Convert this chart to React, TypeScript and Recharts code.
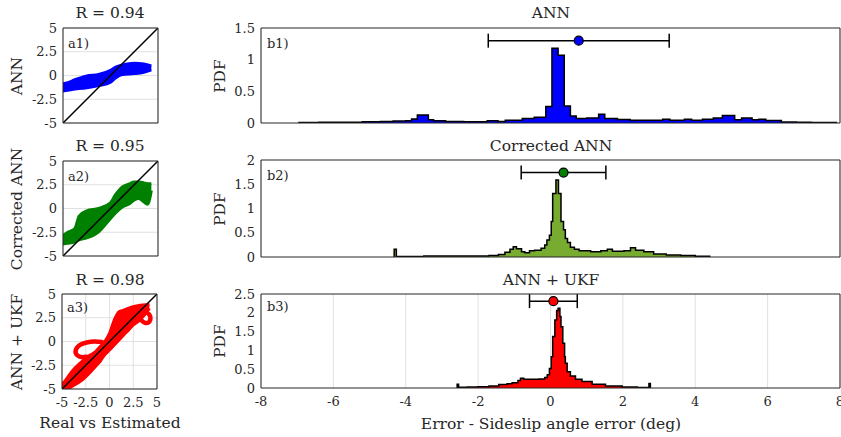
import React from 'react';
import { ComposedChart, Area, Line, Scatter, XAxis, YAxis, CartesianGrid, ErrorBar } from 'recharts';

const FONT = '"DejaVu Serif", "Liberation Serif", serif';
const INK = '#262626';
const GRID = '#e1e1e1';

// ---------- ticks / labels ----------
const SC_TICKS = [-5, -2.5, 0, 2.5, 5];
const HIST_X_TICKS = [-8, -6, -4, -2, 0, 2, 4, 6, 8];
const B1_Y_TICKS = [0, 0.5, 1, 1.5];
const B2_Y_TICKS = [0, 0.5, 1, 1.5, 2];
const B3_Y_TICKS = [0, 0.5, 1, 1.5, 2, 2.5];
const R_VALUES = ['0.94', '0.95', '0.98'];
const MODEL_NAMES = ['ANN', 'Corrected ANN', 'ANN + UKF'];
const SC_LABELS = ['a1)', 'a2)', 'a3)'];
const HIST_LABELS = ['b1)', 'b2)', 'b3)'];

// ---------- scatter (real vs estimated) ----------
const DIAG_X = [-5, 5];
const DIAG_Y = [-5, 5];

const A1_X = [-5.2, -4.5, -3.75, -3.0, -2.5, -1.25, 0, 0.6, 1.25, 2.5, 3.5, 4.3];
const A1_LO = [-1.65, -1.55, -1.42, -1.35, -1.3, -1.07, -0.7, -0.2, 0.1, 0.2, 0.35, 0.6];
const A1_HI = [-0.9, -0.75, -0.45, -0.2, -0.05, 0.1, 0.55, 0.9, 1.1, 1.3, 1.2, 1.0];

const A2_X = [-5.2, -4.5, -3.75, -3.3, -2.5, -1.25, 0, 0.5, 1.25, 2.0, 2.5, 3.0, 3.5, 3.9, 4.3];
const A2_LO = [-3.75, -3.65, -3.5, -3.3, -3.1, -2.45, -1.05, -0.5, 0.17, 0.5, 0.9, 1.05, 0.7, 0.45, 1.9];
const A2_HI = [-3.0, -2.5, -2.1, -0.8, -0.25, 0.0, 0.6, 1.4, 2.27, 2.6, 2.8, 2.8, 2.7, 2.6, 2.6];

const A3_X = [-5.2, -4.6, -4.0, -3.0, -2.0, -1.5, -1.0, -0.5, 0, 0.5, 1.0, 1.5, 2.0, 2.5, 3.0, 3.5, 4.2];
const A3_LO = [-5.2, -5.1, -4.75, -4.15, -3.2, -2.65, -2.1, -1.4, -0.9, -0.37, 0.16, 0.7, 1.2, 1.74, 2.1, 2.6, 3.5];
const A3_HI = [-4.7, -4.05, -3.2, -2.2, -1.4, -1.1, -0.55, 0.0, 0.86, 2.26, 3.14, 3.3, 3.5, 3.67, 3.77, 3.84, 3.9];

const A3_LOOP1_X = [-0.8, -1.6, -2.4, -3.1, -3.55, -3.4, -2.9, -2.4];
const A3_LOOP1_Y = [-0.05, 0.0, -0.1, -0.35, -0.9, -1.45, -1.65, -1.6];
const A3_LOOP2_X = [3.2, 3.5, 4.0, 4.3, 4.2, 3.8, 3.4, 3.2];
const A3_LOOP2_Y = [2.6, 3.0, 3.0, 2.6, 2.1, 1.95, 2.2, 2.6];

// ---------- histograms (bin left edge, PDF) ----------
const B1_X = [-6.95, -6.4, -5.8, -5.2, -4.7, -4.35, -4.0, -3.84, -3.68, -3.375, -3.23, -2.9, -2.4, -1.75, -1.45, -1.25, -0.78, -0.45, -0.13, 0.04, 0.21, 0.38, 0.55, 0.71, 1.0, 1.33, 1.5, 1.85, 2.2, 3.1, 3.3, 3.7, 3.9, 4.2, 4.5, 4.75, 5.09, 5.28, 5.57, 5.76, 5.95, 6.38, 6.8, 7.2, 7.9];
const B1_Y = [0.006, 0.01, 0.013, 0.018, 0.022, 0.03, 0.037, 0.063, 0.126, 0.05, 0.035, 0.025, 0.02, 0.035, 0.025, 0.045, 0.07, 0.09, 0.26, 1.18, 1.07, 0.27, 0.11, 0.07, 0.08, 0.14, 0.07, 0.055, 0.045, 0.06, 0.045, 0.06, 0.045, 0.06, 0.08, 0.12, 0.05, 0.08, 0.05, 0.06, 0.04, 0.015, 0.012, 0.008, 0];

const B2_X = [-4.32, -4.26, -3.5, -2.0, -1.7, -1.44, -1.26, -1.12, -1.03, -0.94, -0.8, -0.71, -0.58, -0.44, -0.26, -0.16, -0.1, -0.03, 0.02, 0.06, 0.15, 0.22, 0.29, 0.36, 0.41, 0.47, 0.55, 0.66, 0.79, 1.11, 1.39, 1.57, 1.71, 2.03, 2.21, 2.35, 2.58, 2.85, 3.2, 3.6, 4.0, 4.4];
const B2_Y = [0.16, 0.01, 0.02, 0.02, 0.03, 0.05, 0.1, 0.16, 0.21, 0.17, 0.11, 0.09, 0.13, 0.14, 0.18, 0.25, 0.35, 0.45, 0.73, 1.31, 1.59, 1.31, 0.73, 0.56, 0.38, 0.3, 0.2, 0.16, 0.13, 0.11, 0.13, 0.16, 0.12, 0.13, 0.19, 0.14, 0.11, 0.06, 0.04, 0.03, 0.015, 0];

const B3_X = [-2.58, -2.54, -2.3, -2.0, -1.7, -1.43, -1.2, -1.06, -0.9, -0.83, -0.74, -0.55, -0.32, -0.16, -0.09, -0.03, 0.02, 0.06, 0.12, 0.17, 0.21, 0.26, 0.29, 0.34, 0.39, 0.41, 0.46, 0.55, 0.69, 0.87, 1.15, 1.52, 1.98, 2.4, 2.72, 2.76];
const B3_Y = [0.1, 0.02, 0.025, 0.035, 0.05, 0.09, 0.11, 0.14, 0.2, 0.26, 0.23, 0.23, 0.24, 0.28, 0.35, 0.52, 0.83, 1.37, 1.81, 2.06, 2.12, 1.9, 1.63, 1.19, 0.83, 0.66, 0.43, 0.32, 0.23, 0.17, 0.1, 0.05, 0.027, 0.015, 0.12, 0];

// ---------- mean +- std of the error ----------
const ERR_MEAN = [0.78, 0.36, 0.08];
const ERR_STD = [2.5, 1.17, 0.66];
const ERR_LEVEL = [1.3, 1.74, 2.31];

const SC_COLORS = ['#0000ff', '#008000', '#ff0000'];
const HIST_FILL = ['#0000ff', '#77ac30', '#ff0000'];
const MARK_FILL = ['#0000ff', '#008000', '#ff0000'];

const band = (xs: number[], lo: number[], hi: number[]) => xs.map((x, i) => ({ x, r: [lo[i], hi[i]] }));
const pts = (xs: number[], ys: number[]) => xs.map((x, i) => ({ x, y: ys[i] }));
const hist = (xs: number[], ys: number[]) => [{ x: xs[0], y: 0 }, ...pts(xs, ys)];

const TICK_FS = 13;
const tickStyle = { fontFamily: FONT, fontSize: TICK_FS, fill: INK };

type PanelProps = {
  left: number; top: number; w: number; h: number;
  xDomain: [number, number]; yDomain: [number, number];
  xTicks: number[]; yTicks: number[]; showX: boolean; hGrid: boolean; tick: number;
  children: React.ReactNode;
};

function Panel(p: PanelProps) {
  const YW = 50, PAD = 12;
  const XH = p.showX ? 28 : 0;
  const cw = YW + p.w + PAD;
  const ch = PAD + p.h + (p.showX ? XH : PAD);
  return (
    <div style={{ position: 'absolute', left: p.left - YW, top: p.top - PAD }}>
      <ComposedChart width={cw} height={ch} margin={{ top: PAD, right: PAD, bottom: p.showX ? 0 : PAD, left: 0 }}>
        <CartesianGrid stroke={GRID} strokeWidth={1} horizontal={p.hGrid} vertical={true} />
        <XAxis xAxisId={0} type="number" dataKey="x" domain={p.xDomain} ticks={p.xTicks} interval={0} allowDataOverflow
          axisLine={false} tickLine={false} tickSize={4} tickMargin={5} tick={p.showX ? tickStyle : false} height={XH} />
        <YAxis yAxisId={0} type="number" domain={p.yDomain} ticks={p.yTicks} interval={0} allowDataOverflow
          axisLine={false} tickLine={false} tickSize={4} tickMargin={2} tick={tickStyle} width={YW} />
        {p.children}
        <XAxis xAxisId="t" orientation="top" type="number" dataKey="x" domain={p.xDomain} ticks={p.xTicks} interval={0}
          allowDataOverflow mirror tick={false} tickSize={p.tick} stroke={INK} />
        <XAxis xAxisId="b" orientation="bottom" type="number" dataKey="x" domain={p.xDomain} ticks={p.xTicks} interval={0}
          allowDataOverflow mirror tick={false} tickSize={p.tick} stroke={INK} />
        <YAxis yAxisId="l" orientation="left" type="number" domain={p.yDomain} ticks={p.yTicks} interval={0}
          allowDataOverflow mirror tick={false} tickSize={p.tick} stroke={INK} />
        <YAxis yAxisId="r" orientation="right" type="number" domain={p.yDomain} ticks={p.yTicks} interval={0}
          allowDataOverflow mirror tick={false} tickSize={p.tick} stroke={INK} />
      </ComposedChart>
    </div>
  );
}

const T = ({ x, y, s, size = 15.5, rot = false, ls = 0, left = false }:
  { x: number; y: number; s: string; size?: number; rot?: boolean; ls?: number; left?: boolean }) => (
  <div style={{
    position: 'absolute', left: x, top: y,
    transform: left ? 'translate(0,-50%)' : `translate(-50%,-50%)${rot ? ' rotate(-90deg)' : ''}`,
    fontFamily: FONT, fontSize: size, color: INK, whiteSpace: 'nowrap', letterSpacing: ls, lineHeight: 1,
  }}>{s}</div>
);

const marker = (fill: string) => (props: any) => (
  <circle cx={props.cx} cy={props.cy} r={4.5} fill={fill} stroke="#000" strokeWidth={1.2} />
);

const SC_LEFT = [63, 63, 62];
const SC_TOP = [28, 161, 294];
const H_LEFT = 261;
const H_W = 579;
const H_TOP = [28, 160, 294];
const H_H = [95, 97, 94];
const H_YDOM: [number, number][] = [[0, 1.5], [0, 2], [0, 2.5]];
const H_YTICKS = [B1_Y_TICKS, B2_Y_TICKS, B3_Y_TICKS];

const BANDS = [band(A1_X, A1_LO, A1_HI), band(A2_X, A2_LO, A2_HI), band(A3_X, A3_LO, A3_HI)];
const HISTS = [hist(B1_X, B1_Y), hist(B2_X, B2_Y), hist(B3_X, B3_Y)];
const DIAG = pts(DIAG_X, DIAG_Y);
const LOOPS = [pts(A3_LOOP1_X, A3_LOOP1_Y), pts(A3_LOOP2_X, A3_LOOP2_Y)];

export default function App() {
  return (
    <div style={{ position: 'absolute', left: 0, top: 0, width: 841, height: 437, background: '#fff', overflow: 'hidden' }}>
      {[0, 1, 2].map((i) => (
        <Panel key={'a' + i} left={SC_LEFT[i]} top={SC_TOP[i]} w={95} h={95} xDomain={[-5, 5]} yDomain={[-5, 5]}
          xTicks={SC_TICKS} yTicks={SC_TICKS} showX={i === 2} hGrid={true} tick={2}>
          <Area data={BANDS[i]} dataKey="r" type="monotone" fill={SC_COLORS[i]} fillOpacity={1} stroke={SC_COLORS[i]}
            strokeWidth={3} strokeLinejoin="round" dot={false} activeDot={false} isAnimationActive={false} />
          {i === 2 && LOOPS.map((l, k) => (
            <Line key={k} data={l} dataKey="y" type="natural" stroke={SC_COLORS[2]} strokeWidth={4.5}
              strokeLinejoin="round" strokeLinecap="round" dot={false} activeDot={false} isAnimationActive={false} />
          ))}
          <Line data={DIAG} dataKey="y" type="linear" stroke="#000" strokeWidth={1.5} dot={false} activeDot={false}
            isAnimationActive={false} />
        </Panel>
      ))}
      {[0, 1, 2].map((i) => (
        <Panel key={'b' + i} left={H_LEFT} top={H_TOP[i]} w={H_W} h={H_H[i]} xDomain={[-8, 8]} yDomain={H_YDOM[i]}
          xTicks={HIST_X_TICKS} yTicks={H_YTICKS[i]} showX={i === 2} hGrid={false} tick={4}>
          <Area data={HISTS[i]} dataKey="y" type="stepAfter" fill={HIST_FILL[i]} fillOpacity={1} stroke="#000"
            strokeWidth={1.5} dot={false} activeDot={false} isAnimationActive={false} />
          <Scatter data={[{ x: ERR_MEAN[i], y: ERR_LEVEL[i], e: ERR_STD[i] }]} dataKey="y" shape={marker(MARK_FILL[i])}
            isAnimationActive={false}>
            <ErrorBar dataKey="e" direction="x" width={7} stroke="#000" strokeWidth={1.5} />
          </Scatter>
        </Panel>
      ))}

      {[0, 1, 2].map((i) => (
        <React.Fragment key={'t' + i}>
          <T x={110} y={[14, 147, 281][i]} s={`R = ${R_VALUES[i]}`} />
          <T x={551} y={[14, 147, 281][i]} s={MODEL_NAMES[i]} />
          <T x={18} y={SC_TOP[i] + 47.5} s={MODEL_NAMES[i]} rot />
          <T x={221} y={H_TOP[i] + H_H[i] / 2} s="PDF" rot />
          <T x={SC_LEFT[i] + 5} y={[43, 176, 307][i]} s={SC_LABELS[i]} size={13} left />
          <T x={H_LEFT + 6} y={[43, 175, 306][i]} s={HIST_LABELS[i]} size={13} left />
        </React.Fragment>
      ))}
      <T x={110} y={424} s="Real vs Estimated" />
      <T x={551} y={425} s="Error - Sideslip angle error (deg)" />
    </div>
  );
}
